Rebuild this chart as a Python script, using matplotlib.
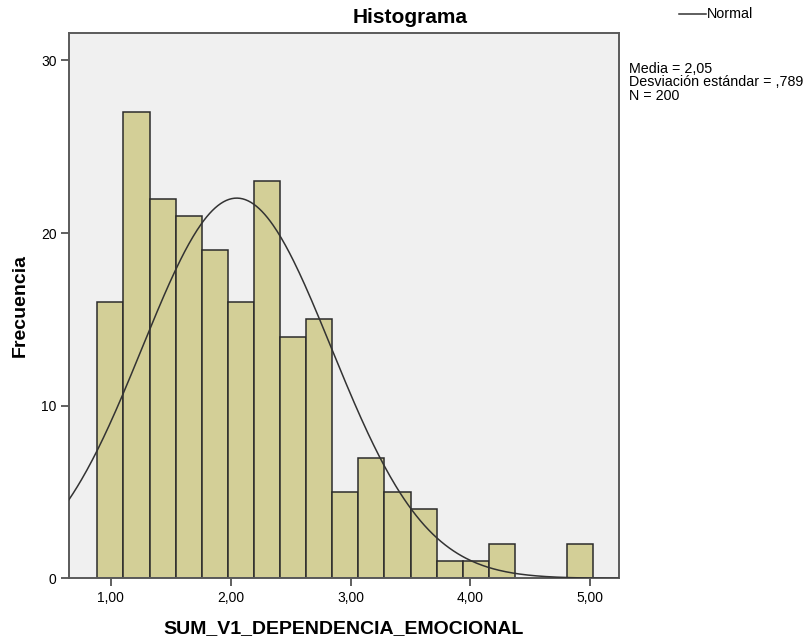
import numpy as np
import matplotlib.pyplot as plt

# histogram counts (19 bins)
counts = [16, 27, 22, 21, 19, 16, 23, 14, 15, 5, 7, 5, 4, 1, 1, 2, 0, 0, 2]
bin_start = 0.887
bin_width = 0.2178
media = 2.05
desv = 0.789
n = 200
xticks = [1, 2, 3, 4, 5]
xtick_labels = ['1,00', '2,00', '3,00', '4,00', '5,00']
yticks = [0, 10, 20, 30]

plt.rcParams['font.family'] = ['Liberation Sans', 'DejaVu Sans']

fig = plt.figure(figsize=(8.07, 6.43), dpi=100)
ax = fig.add_axes([0.0855, 0.1005, 0.6815, 0.8485])
ax.set_facecolor('#f0f0f0')

lefts = bin_start + bin_width * np.arange(len(counts))
for left, c in zip(lefts, counts):
    if c > 0:
        ax.bar(left, c, width=bin_width, align='edge', color='#d3cf97',
               edgecolor='#2b2b2b', linewidth=1.1, zorder=2)

xlim = (0.65, 5.24)
xs = np.linspace(xlim[0], xlim[1], 400)
ys = n * bin_width / (desv * np.sqrt(2 * np.pi)) * np.exp(-0.5 * ((xs - media) / desv) ** 2)
ax.plot(xs, ys, color='#333333', linewidth=1.1, zorder=3)

ax.set_xlim(*xlim)
ax.set_ylim(0, 31.6)
ax.set_xticks(xticks)
ax.set_xticklabels(xtick_labels)
ax.set_yticks(yticks)
ax.tick_params(axis='both', direction='out', length=6, width=1.2,
               color='#444444', labelsize=10, pad=3)
for s in ax.spines.values():
    s.set_color('#5a5a5a')
    s.set_linewidth(1.4)

# SPSS centres the title over the whole chart, not the plot frame
ax.set_title('Histograma', fontsize=15, fontweight='bold', pad=7, x=0.62)
ax.set_xlabel('SUM_V1_DEPENDENCIA_EMOCIONAL', fontsize=14, fontweight='bold', labelpad=11)
ax.set_ylabel('Frecuencia', fontsize=14, fontweight='bold', labelpad=9)

# legend line and stats box to the right
fig.lines.append(plt.Line2D([679 / 807, 706 / 807], [1 - 14 / 643, 1 - 14 / 643],
                            transform=fig.transFigure, color='#333333', linewidth=1.1))
fig.text(707 / 807, 1 - 14 / 643, 'Normal', fontsize=10.3, va='center', ha='left')
fig.text(629 / 807, 1 - 62 / 643,
         'Media = 2,05\nDesviación estándar = ,789\nN = 200',
         fontsize=10.3, va='top', ha='left', linespacing=0.94)

fig.savefig('out.png', dpi=100)
